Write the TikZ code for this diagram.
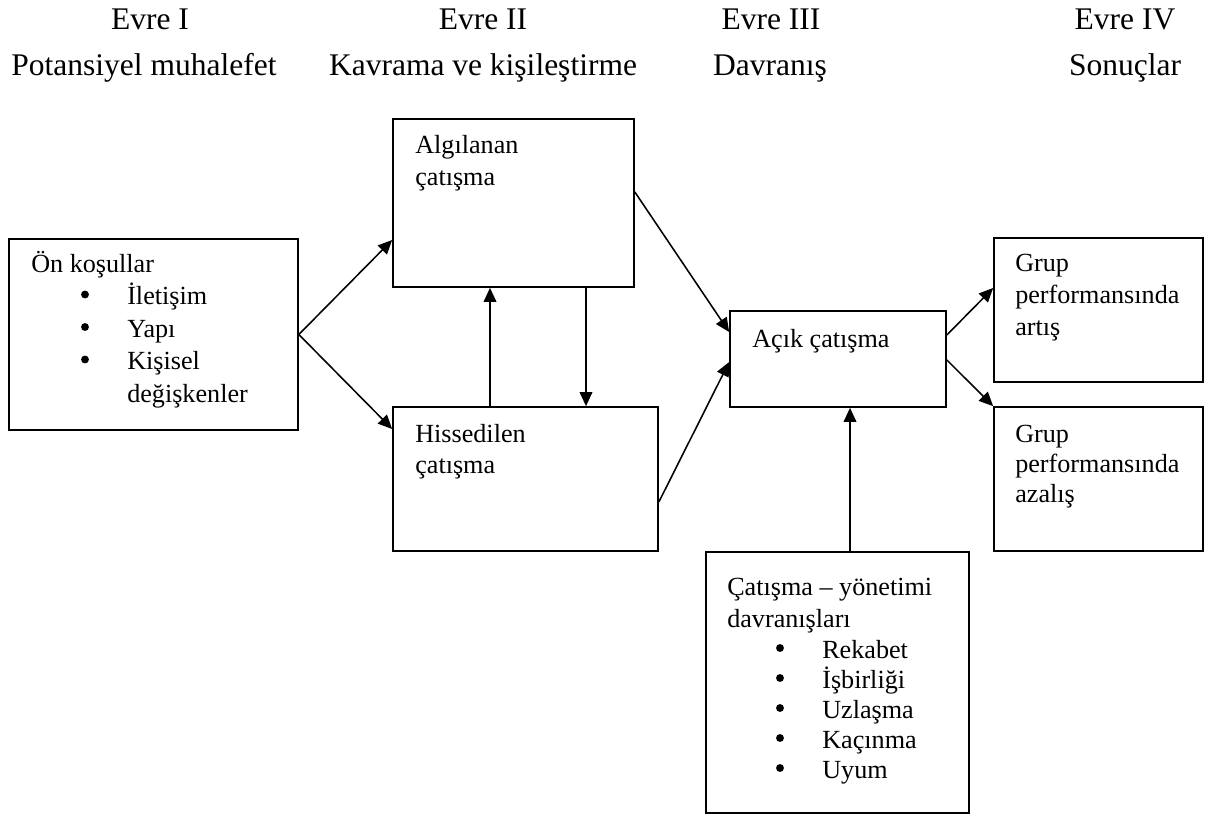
\documentclass[tikz,border=0pt]{standalone}
\usepackage{fontspec}
\setmainfont{Liberation Serif}
\usepackage{tikz}
\usetikzlibrary{arrows.meta,fit}
\definecolor{KInk}{HTML}{000000}
\tikzset{
  kutu/.style={draw=KInk,line width=1.2pt,inner sep=0pt},
  yazi/.style={anchor=base west,inner sep=0pt,text=KInk,
               font=\fontsize{18.6}{22}\selectfont},
  baslik/.style={anchor=base,inner sep=0pt,text=KInk,
               font=\fontsize{22.4}{26}\selectfont},
  madde/.style={circle,fill=KInk,inner sep=0pt,minimum size=5.6pt},
  ok/.style={draw=KInk,line width=1.1pt,-{Triangle[length=10pt,width=9pt]}},
}

\begin{document}
\begin{tikzpicture}[x=0.025cm,y=-0.025cm]
    \useasboundingbox (0,0) rectangle (1210,817);
    % evreler
    \node[baslik] (e1) at (150,29) {Evre I};
    \node[baslik] (e2) at (483,29) {Evre II};
    \node[baslik] (e3) at (771,29) {Evre III};
    \node[baslik] (e4) at (1125,29) {Evre IV};
    \node[baslik] (e1a) at (144,75) {Potansiyel muhalefet};
    \node[baslik] (e2a) at (483,75) {Kavrama ve kişileştirme};
    \node[baslik] (e3a) at (770,75) {Davranış};
    \node[baslik] (e4a) at (1125,75) {Sonuçlar};
    % kutular
    \node[kutu,fit={(9,239) (298,430)}] (on) {};
    \node[kutu,fit={(393,119) (634,287)}] (alg) {};
    \node[kutu,fit={(393,407) (658,551)}] (his) {};
    \node[kutu,fit={(730,311) (946,407)}] (acik) {};
    \node[kutu,fit={(706,552) (969,813)}] (yon) {};
    \node[kutu,fit={(994,238) (1203,382)}] (art) {};
    \node[kutu,fit={(994,407) (1203,551)}] (aza) {};
    % on kosullar
    \node[yazi] (on0) at (31,272) {Ön koşullar};
    \foreach \t [count=\i] in {İletişim,Yapı,Kişisel} {
      \node[madde] (onb\i) at (85,262+32.5*\i) {};
      \node[yazi] (ont\i) at (127,272+32.5*\i) {\t};
    }
    \node[yazi] (on5) at (127,402) {değişkenler};
    % evre II
    \node[yazi] (alg1) at (415,153) {Algılanan};
    \node[yazi] (alg2) at (415,185) {çatışma};
    \node[yazi] (his1) at (415,442) {Hissedilen};
    \node[yazi] (his2) at (415,473) {çatışma};
    % evre III
    \node[yazi] (acik1) at (752,347) {Açık çatışma};
    \node[yazi] (yon1) at (727,595) {Çatışma – yönetimi};
    \node[yazi] (yon2) at (727,627) {davranışları};
    \foreach \t [count=\i] in {Rekabet,İşbirliği,Uzlaşma,Kaçınma,Uyum} {
      \node[madde] (yonb\i) at (780,618+30*\i) {};
      \node[yazi] (yont\i) at (822,628+30*\i) {\t};
    }
    % evre IV
    \node[yazi] (art1) at (1015,271) {Grup};
    \node[yazi] (art2) at (1015,303) {performansında};
    \node[yazi] (art3) at (1015,335) {artış};
    \node[yazi] (aza1) at (1015,442) {Grup};
    \node[yazi] (aza2) at (1015,472) {performansında};
    \node[yazi] (aza3) at (1015,502) {azalış};
    % oklar
    \draw[ok] (on.east) -- (alg.west |- 0,240);
    \draw[ok] (on.east) -- (his.west |- 0,429);
    \draw[ok] (his.north -| 490,0) -- (alg.south -| 490,0);
    \draw[ok] (alg.south -| 586,0) -- (his.north -| 586,0);
    \draw[ok] (alg.east |- 0,192) -- (acik.west |- 0,332);
    \draw[ok] (his.east |- 0,502) -- (acik.west |- 0,362);
    \draw[ok] (acik.east |- 0,335) -- (art.west |- 0,288);
    \draw[ok] (acik.east |- 0,360) -- (aza.north west);
    \draw[ok] (yon.north -| 850,0) -- (acik.south -| 850,0);
\end{tikzpicture}
\end{document}
